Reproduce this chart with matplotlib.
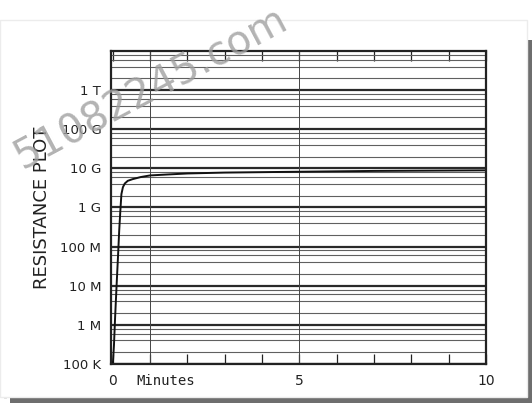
import matplotlib.pyplot as plt
from matplotlib.patches import Rectangle
from matplotlib.lines import Line2D
from matplotlib.ticker import LogLocator, FixedLocator, NullFormatter

# Data.
minutes = [0, 0.03, 0.06, 0.10, 0.14, 0.17, 0.20, 0.23, 0.27, 0.32, 0.40, 0.53, 0.75, 1.0,
           1.5, 2.0, 3.0, 4.0, 5.0, 6.0, 7.0, 8.0, 9.0, 10.0]
resistance = [1e5, 3e5, 1.5e6, 1e7, 6e7, 2.5e8, 8e8, 2.2e9, 3.3e9, 4.1e9, 4.8e9, 5.3e9,
              6.0e9, 6.6e9, 7.0e9, 7.4e9, 7.8e9, 8.0e9, 8.2e9, 8.4e9, 8.6e9, 8.7e9, 8.8e9,
              8.9e9]
decade_values = [1e5, 1e6, 1e7, 1e8, 1e9, 1e10, 1e11, 1e12]
decade_labels = ['100 K', '1 M', '10 M', '100 M', '1 G', '10 G', '100 G', '1 T']
x_ticks = [0, 5, 10]
x_labels = ['0', '5', '10']

plt.rcParams['font.family'] = ['DejaVu Sans', 'Noto Sans']

fig = plt.figure(figsize=(5.32, 4.03), dpi=100)

# Photo card with a dark shadow on the right and bottom (kept behind the axes).
fig.patches.append(Rectangle((0.019, 0.0), 0.981, 0.90, transform=fig.transFigure,
                             facecolor='#6e6e6e', edgecolor='none', zorder=-2))
fig.patches.append(Rectangle((0.0, 0.015), 0.990, 0.935, transform=fig.transFigure,
                             facecolor='white', edgecolor='#ececec', linewidth=1.0, zorder=-1))
fig.lines.append(Line2D([0.010, 0.010], [0.015, 0.90], transform=fig.transFigure,
                        color='#dddddd', linewidth=2.0, zorder=-1))

ax = fig.add_axes([0.2086, 0.0968, 0.7047, 0.7767])
ax.set_yscale('log')
ax.set_ylim(1e5, 1e13)
ax.set_xlim(-0.05, 10)

# Grid: heavy decade lines, light lines at 2, 4, 6, 8, and verticals at 1 and 5 minutes.
ax.yaxis.set_major_locator(FixedLocator(decade_values))
ax.yaxis.set_minor_locator(LogLocator(base=10, subs=[2, 4, 6, 8], numticks=20))
ax.yaxis.set_minor_formatter(NullFormatter())
ax.set_yticklabels(decade_labels)
ax.grid(True, which='major', axis='y', color='#2a2a2a', linewidth=1.6)
ax.grid(True, which='minor', axis='y', color='#606060', linewidth=0.8)
for xv in [1, 5]:
    ax.axvline(xv, color='#444444', linewidth=0.7)

ax.set_xticks(x_ticks)
ax.set_xticklabels(x_labels)
ax.xaxis.set_minor_locator(FixedLocator(range(1, 10)))
ax.tick_params(axis='x', which='both', direction='in', top=True, length=7, width=0.9,
               labelsize=10, pad=7, colors='#222222')
ax.tick_params(axis='y', which='both', length=0, labelsize=9.5, pad=7, colors='#222222')

for sp in ax.spines.values():
    sp.set_linewidth(1.6)
    sp.set_color('#222222')

ax.plot(minutes, resistance, color='#111111', linewidth=1.4)

ax.text(0.64, -0.053, 'Minutes', transform=ax.get_xaxis_transform(), ha='left', va='center',
        fontsize=10, color='#222222', family='DejaVu Sans Mono')
ax.set_ylabel('RESISTANCE PLOT', fontsize=13, labelpad=7, color='#222222')

# Watermark.
fig.text(0.015, 0.78, '51082245.com', fontsize=29, color='#a0a0a0', alpha=0.8,
         rotation=28, ha='left', va='center')

fig.savefig('out.png', dpi=100)
